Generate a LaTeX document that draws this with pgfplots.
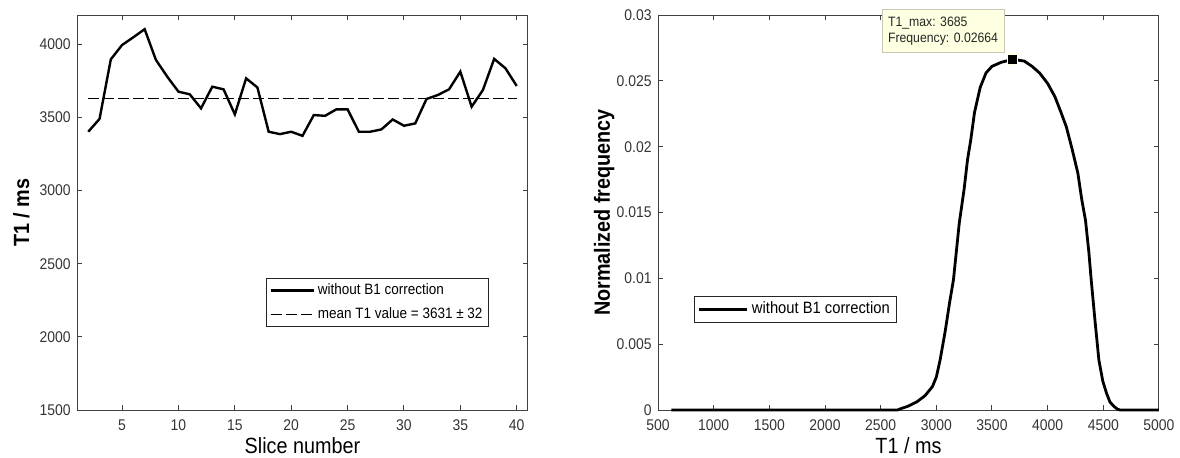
\documentclass[border=0pt]{standalone}
\usepackage{fontspec}
\setmainfont{Liberation Sans}[FakeStretch=0.9]
\usepackage{pgfplots}
\pgfplotsset{compat=1.18}
\definecolor{tipfill}{HTML}{FFFFE1}
\definecolor{tipedge}{HTML}{C8C8B4}
\definecolor{frame}{HTML}{404040}
\begin{document}
\begin{tikzpicture}
\useasboundingbox (0,0) rectangle (590pt,228.5pt);
\pgfplotsset{
  every axis/.append style={
    scale only axis, height=197.5pt,
    axis line style={frame, line width=0.5pt},
    every tick/.style={frame, line width=0.5pt},
    tick align=inside,
    major tick length=2.5pt,
    tick label style={font=\fontsize{7.75}{9}\selectfont, text=black!80},
    yticklabel style={inner sep=0pt, xshift=-3pt},
    xticklabel style={inner sep=0pt, yshift=-4.5pt},
    /pgf/number format/assume math mode=true,
    /pgf/number format/1000 sep={},
    scaled x ticks=false, scaled y ticks=false,
    xlabel style={font=\fontsize{11}{13}\selectfont, at={(axis description cs:0.5,0)}, anchor=north, inner sep=0pt, yshift=-13.5pt},
    ylabel style={font=\bfseries\fontsize{11}{13}\selectfont, anchor=base, inner sep=0pt},
    legend style={font=\fontsize{7.5}{9}\selectfont, draw=black!85, line width=0.5pt,
      inner xsep=1.5pt, inner ysep=1pt, cells={anchor=west},
      nodes={inner sep=1.5pt, text height=5.5pt, text depth=1.5pt}, row sep=2pt},
    legend image code/.code={\draw[#1] (0pt,0pt) -- (21.5pt,0pt);},
  }
}
% ---------------- left axis ----------------
\begin{axis}[
  at={(38.5pt,23.5pt)}, anchor=south west,
  width=225.5pt,
  xmin=1, xmax=41, ymin=1500, ymax=4200,
  xtick={5,10,...,40}, ytick={1500,2000,2500,3000,3500,4000},
  xlabel={Slice number}, ylabel={T1 / ms},
  ylabel style={at={(axis description cs:-0.106,0.5)}},
  legend style={at={(rel axis cs:0.419,0.334)}, anchor=north west},
]
\addplot[black, line width=1.2pt] coordinates {
(2,3402) (3,3490) (4,3897) (5,3995) (6,4048) (7,4103) (8,3893) (9,3779) (10,3676)
(11,3658) (12,3562) (13,3710) (14,3692) (15,3521) (16,3767) (17,3705) (18,3402)
(19,3386) (20,3402) (21,3374) (22,3516) (23,3511) (24,3555) (25,3555) (26,3402)
(27,3402) (28,3418) (29,3486) (30,3443) (31,3459) (32,3626) (33,3653) (34,3692)
(35,3813) (36,3573) (37,3687) (38,3900) (39,3836) (40,3715)
};
\addlegendentry{without B1 correction}
\addplot[black, line width=0.7pt, dash pattern=on 5.5pt off 2pt] coordinates {(2,3631) (40,3631)};
\addlegendentry{mean T1 value = 3631 ± 32}
\end{axis}
% ---------------- right axis ----------------
\begin{axis}[
  at={(329pt,23.5pt)}, anchor=south west,
  width=250.5pt, clip=false,
  xmin=500, xmax=5000, ymin=0, ymax=0.03,
  xtick={500,1000,...,5000}, ytick={0,0.005,0.01,0.015,0.02,0.025,0.03},
  yticklabel style={/pgf/number format/fixed, /pgf/number format/precision=3},
  xlabel={T1 / ms}, ylabel={Normalized frequency},
  ylabel style={at={(axis description cs:-0.096,0.5)}},
  legend style={at={(rel axis cs:0.072,0.289)}, anchor=north west, font=\fontsize{8.2}{9.5}\selectfont,
    nodes={inner sep=1.8pt, text height=6pt, text depth=1.7pt}},
  legend image code/.code={\draw[#1] (0pt,0pt) -- (24pt,0pt);},
]
\addplot[black, line width=1.4pt] coordinates {
(620,0) (1000,0) (1500,0) (2000,0) (2500,0) (2650,0) (2690,0.00013) (2750,0.0003)
(2827,0.00063) (2900,0.0011) (2965,0.00178) (3000,0.0025) (3034,0.0038) (3080,0.0060)
(3120,0.0082) (3154,0.0099) (3206,0.0142) (3250,0.0168) (3280,0.0190) (3309,0.0205)
(3343,0.0226) (3394,0.0245) (3446,0.0256) (3500,0.0261) (3580,0.0264) (3685,0.02664)
(3790,0.0265) (3860,0.0261) (3927,0.0256) (4000,0.0248) (4065,0.0238) (4120,0.0226)
(4168,0.0215) (4220,0.0198) (4271,0.0180) (4306,0.0160) (4340,0.0144) (4370,0.0120)
(4391,0.0099) (4425,0.0068) (4460,0.0038) (4495,0.0022) (4529,0.00127) (4560,0.0006)
(4598,0.00025) (4630,0.00005) (4650,0) (5000,0)
};
\addlegendentry{without B1 correction}
\addplot[only marks, mark=square*, mark size=2.6pt, mark options={fill=black, draw=tipfill, line width=0.6pt}, forget plot] coordinates {(3685,0.02664)};
\node[anchor=north west, fill=tipfill, draw=tipedge, line width=0.5pt, align=left,
  font=\fontsize{6.8}{8}\selectfont, text=black!85, inner xsep=3pt, inner ysep=3.5pt]
  at (axis cs:2508,0.03043) {T1\_max: 3685\\Frequency: 0.02664};
\end{axis}
\end{tikzpicture}
\end{document}
